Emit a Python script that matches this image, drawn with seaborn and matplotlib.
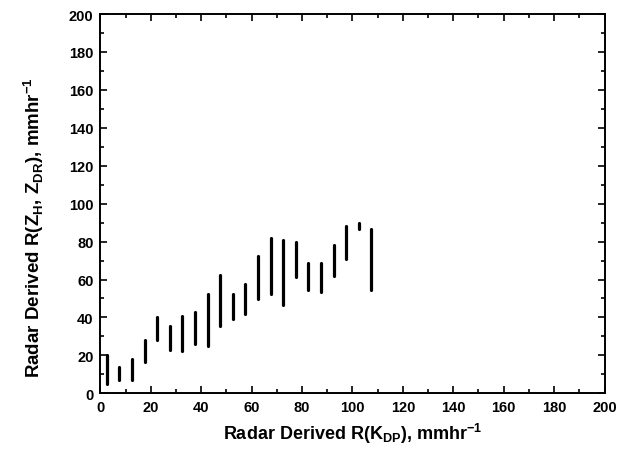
import numpy as np
import pandas as pd
import matplotlib
matplotlib.use("Agg")
import matplotlib.pyplot as plt
import seaborn as sns
from matplotlib.ticker import MultipleLocator

# Rain-rate bins from R(KDP) (bin centres, mm/hr)
kdp_rate = [2.5, 7.5, 12.5, 17.5, 22.5, 27.5, 32.5, 37.5, 42.5, 47.5, 52.5,
            57.5, 62.5, 67.5, 72.5, 77.5, 82.5, 87.5, 92.5, 97.5, 102.5, 107.5]
# Range of R(ZH, ZDR) within each bin
zdr_rate_low = [5.0, 6.8, 7.2, 16.7, 27.9, 23.0, 22.2, 25.8, 25.1, 35.3, 39.2,
                42.0, 49.5, 52.2, 46.5, 61.5, 54.3, 53.6, 61.7, 70.9, 86.6, 54.3]
zdr_rate_high = [20.0, 13.7, 18.0, 27.9, 40.2, 35.7, 40.6, 42.9, 52.2, 62.4, 52.6,
                 57.9, 72.2, 82.0, 80.7, 79.8, 68.6, 68.6, 78.1, 88.4, 89.6, 86.4]

xticks = list(range(0, 201, 20))
yticks = list(range(0, 201, 20))

df = pd.DataFrame({
    "kdp": kdp_rate * 2,
    "zdr": zdr_rate_low + zdr_rate_high,
    "bin": list(range(len(kdp_rate))) * 2,
})

sns.set_style("ticks")
plt.rcParams["font.family"] = ["Liberation Sans", "DejaVu Sans"]
plt.rcParams["mathtext.fontset"] = "custom"
plt.rcParams["mathtext.rm"] = "Liberation Sans:bold"

fig = plt.figure(figsize=(6.2, 4.56), dpi=100)
ax = fig.add_axes([0.162, 0.1353, 0.813, 0.8317])

sns.lineplot(data=df, x="kdp", y="zdr", units="bin", estimator=None,
             color="black", linewidth=2.3, ax=ax, legend=False)

ax.set_xlim(0, 200)
ax.set_ylim(0, 200)
ax.set_xticks(xticks)
ax.set_yticks(yticks)
ax.xaxis.set_minor_locator(MultipleLocator(10))
ax.yaxis.set_minor_locator(MultipleLocator(10))
ax.tick_params(which="both", direction="in", top=True, right=True,
               color="black", width=1.2)
ax.tick_params(which="major", length=5, labelsize=10.5, pad=5,
               labelcolor="black")
ax.tick_params(which="minor", length=3)
for lab in ax.get_xticklabels() + ax.get_yticklabels():
    lab.set_fontweight("bold")

for s in ax.spines.values():
    s.set_linewidth(1.4)
    s.set_color("black")

ax.set_xlabel(r"Radar Derived R(K$_\mathregular{DP}$), mmhr$^\mathregular{-1}$",
              fontsize=13, fontweight="bold", color="black", labelpad=5)
ax.set_ylabel(r"Radar Derived R(Z$_\mathregular{H}$, Z$_\mathregular{DR}$), mmhr$^\mathregular{-1}$",
              fontsize=13.5, fontweight="bold", color="black")
ax.yaxis.set_label_coords(-0.108, 0.44)

fig.savefig("out.png", dpi=100)
